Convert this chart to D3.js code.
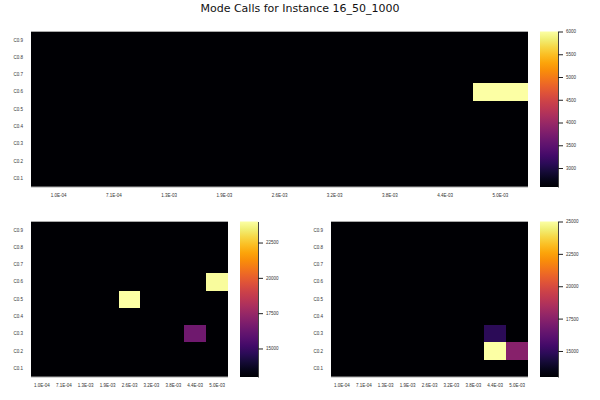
<!DOCTYPE html>
<html lang="en">
<head>
<meta charset="UTF-8">
<title>Mode Calls for Instance 16_50_1000</title>
<script src="https://d3js.org/d3.v7.min.js"></script>
<style>
    body { margin: 0; background: #fff; font-family: 'DejaVu Sans', sans-serif; }
    .tick text { fill: #333; }
    rect.cell { shape-rendering: crispEdges; }
</style>
</head>
<body>
<div id="chart"></div>
<script>
    // Axis categories (columns = step size, rows = C value)
    const xLabels = ["1.0E-04", "7.1E-04", "1.3E-03", "1.9E-03", "2.6E-03", "3.2E-03", "3.8E-03", "4.4E-03", "5.0E-03"];
    const yLabels = ["C0.1", "C0.2", "C0.3", "C0.4", "C0.5", "C0.6", "C0.7", "C0.8", "C0.9"];

    // Values per row, row order follows yLabels (C0.1 first), columns follow xLabels
    const topValues = [
        [2583, 2583, 2583, 2583, 2583, 2583, 2583, 2583, 2583],
        [2583, 2583, 2583, 2583, 2583, 2583, 2583, 2583, 2583],
        [2583, 2583, 2583, 2583, 2583, 2583, 2583, 2583, 2583],
        [2583, 2583, 2583, 2583, 2583, 2583, 2583, 2583, 2583],
        [2583, 2583, 2583, 2583, 2583, 2583, 2583, 2583, 2583],
        [2583, 2583, 2583, 2583, 2583, 2583, 2583, 2583, 6000],
        [2583, 2583, 2583, 2583, 2583, 2583, 2583, 2583, 2583],
        [2583, 2583, 2583, 2583, 2583, 2583, 2583, 2583, 2583],
        [2583, 2583, 2583, 2583, 2583, 2583, 2583, 2583, 2583]
    ];
    const leftValues = [
        [12980, 12980, 12980, 12980, 12980, 12980, 12980, 12980, 12980],
        [12980, 12980, 12980, 12980, 12980, 12980, 12980, 12980, 12980],
        [12980, 12980, 12980, 12980, 12980, 12980, 12980, 16400, 12980],
        [12980, 12980, 12980, 12980, 12980, 12980, 12980, 12980, 12980],
        [12980, 12980, 12980, 12980, 23990, 12980, 12980, 12980, 12980],
        [12980, 12980, 12980, 12980, 12980, 12980, 12980, 12980, 23900],
        [12980, 12980, 12980, 12980, 12980, 12980, 12980, 12980, 12980],
        [12980, 12980, 12980, 12980, 12980, 12980, 12980, 12980, 12980],
        [12980, 12980, 12980, 12980, 12980, 12980, 12980, 12980, 12980]
    ];
    const rightValues = [
        [12990, 12990, 12990, 12990, 12990, 12990, 12990, 12990, 12990],
        [12990, 12990, 12990, 12990, 12990, 12990, 12990, 25000, 17400],
        [12990, 12990, 12990, 12990, 12990, 12990, 12990, 14800, 12990],
        [12990, 12990, 12990, 12990, 12990, 12990, 12990, 12990, 12990],
        [12990, 12990, 12990, 12990, 12990, 12990, 12990, 12990, 12990],
        [12990, 12990, 12990, 12990, 12990, 12990, 12990, 12990, 12990],
        [12990, 12990, 12990, 12990, 12990, 12990, 12990, 12990, 12990],
        [12990, 12990, 12990, 12990, 12990, 12990, 12990, 12990, 12990],
        [12990, 12990, 12990, 12990, 12990, 12990, 12990, 12990, 12990]
    ];

    // Colorbar tick labels
    const topTicks = [3000, 3500, 4000, 4500, 5000, 5500, 6000];
    const leftTicks = [15000, 17500, 20000, 22500];
    const rightTicks = [15000, 17500, 20000, 22500, 25000];

    const width = 600, height = 400;

    const svg = d3.select("#chart").append("svg")
        .attr("width", width)
        .attr("height", height);

    svg.append("text")
        .attr("x", 300)
        .attr("y", 11.5)
        .attr("text-anchor", "middle")
        .style("font-size", "11px")
        .style("fill", "#111")
        .text("Mode Calls for Instance 16_50_1000");

    function drawPanel(values, ticks, box) {
        const g = svg.append("g");
        const x = d3.scaleBand().domain(xLabels).range([box.x0, box.x1]);
        const y = d3.scaleBand().domain(yLabels).range([box.y1, box.y0]);
        const flat = values.flatMap(v => v);
        const ext = d3.extent(flat);
        const color = d3.scaleSequential(d3.interpolateInferno).domain(ext);

        const cells = [];
        values.forEach((row, i) => row.forEach((v, j) => cells.push({ r: yLabels[i], c: xLabels[j], v })));

        // background in the lowest colour, so no seams show between cells
        g.append("rect")
            .attr("x", box.x0).attr("y", box.y0)
            .attr("width", box.x1 - box.x0).attr("height", box.y1 - box.y0)
            .attr("fill", color(ext[0]));

        g.selectAll("rect.cell")
            .data(cells)
            .join("rect")
            .attr("class", "cell")
            .attr("x", d => x(d.c))
            .attr("y", d => y(d.r))
            .attr("width", x.bandwidth())
            .attr("height", y.bandwidth())
            .attr("fill", d => color(d.v));

        // frame lines top and bottom
        g.append("line").attr("x1", box.x0).attr("x2", box.x1).attr("y1", box.y0).attr("y2", box.y0)
            .attr("stroke", "#aaa").attr("stroke-width", 1);
        g.append("line").attr("x1", box.x0).attr("x2", box.x1).attr("y1", box.y1).attr("y2", box.y1)
            .attr("stroke", "#aaa").attr("stroke-width", 1);

        const xAxis = g.append("g")
            .attr("transform", `translate(0,${box.y1})`)
            .call(d3.axisBottom(x).tickSize(0).tickPadding(7));
        xAxis.select(".domain").remove();
        xAxis.selectAll("text").style("font-size", "4.5px");

        const yAxis = g.append("g")
            .attr("transform", `translate(${box.x0},0)`)
            .call(d3.axisLeft(y).tickSize(0).tickPadding(8));
        yAxis.select(".domain").remove();
        yAxis.selectAll("text").style("font-size", "4.5px");

        // colorbar
        const id = "grad" + Math.round(box.x0) + "_" + Math.round(box.y0);
        const grad = svg.append("defs").append("linearGradient")
            .attr("id", id).attr("x1", 0).attr("x2", 0).attr("y1", 1).attr("y2", 0);
        d3.range(0, 1.0001, 0.05).forEach(t => {
            grad.append("stop").attr("offset", t).attr("stop-color", d3.interpolateInferno(t));
        });
        const cy = d3.scaleLinear().domain(ext).range([box.y1, box.y0]);
        g.append("rect")
            .attr("x", box.cb)
            .attr("y", box.y0)
            .attr("width", 18)
            .attr("height", box.y1 - box.y0)
            .attr("fill", `url(#${id})`);
        const cAxis = g.append("g")
            .attr("transform", `translate(${box.cb + 18},0)`)
            .call(d3.axisRight(cy).tickValues(ticks).tickFormat(d3.format("d"))
                .tickSize(5).tickPadding(3).tickSizeOuter(0));
        cAxis.select(".domain").attr("stroke", "#444");
        cAxis.selectAll(".tick line").attr("stroke", "#222");
        cAxis.selectAll("text").style("font-size", "4.5px");
    }

    drawPanel(topValues, topTicks, { x0: 31, x1: 528, y0: 31.5, y1: 187, cb: 540 });
    drawPanel(leftValues, leftTicks, { x0: 31, x1: 228, y0: 221.5, y1: 377, cb: 240 });
    drawPanel(rightValues, rightTicks, { x0: 331, x1: 528, y0: 221.5, y1: 377, cb: 540 });
</script>
</body>
</html>
